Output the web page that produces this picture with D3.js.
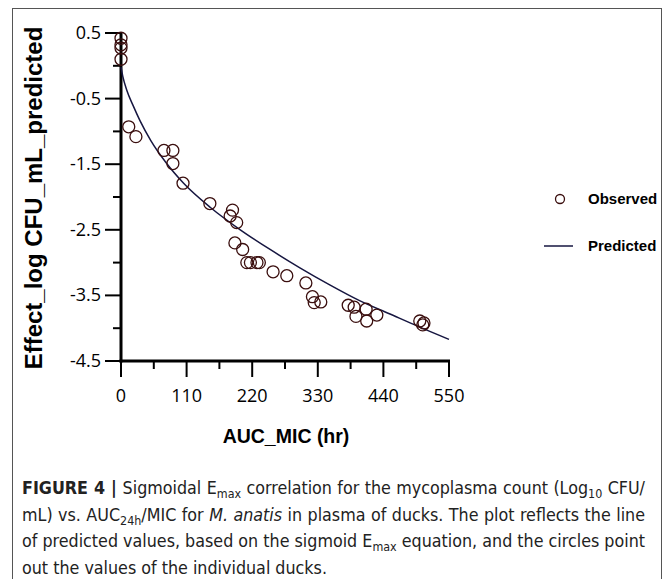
<!DOCTYPE html>
<html>
<head>
<meta charset="utf-8">
<script src="https://cdnjs.cloudflare.com/ajax/libs/d3/7.8.5/d3.min.js"></script>
<style>
	body { margin: 0; background: #fff; }
	svg { display: block; }
</style>
</head>
<body>
<div id="chart"></div>
<script>
	// observed values, one [AUC_MIC, effect] pair per duck
	var observed = [
		[0, 0.42], [0, 0.32], [0, 0.27], [0, 0.10],
		[13, -0.93], [25, -1.08],
		[72, -1.29], [87, -1.29], [87, -1.49], [104, -1.79], [149, -2.10],
		[187, -2.20], [183, -2.29], [194, -2.39],
		[191, -2.70], [204, -2.80], [211, -3.00], [217, -3.00], [228, -3.00], [232, -3.00],
		[255, -3.14], [278, -3.20], [310, -3.31], [321, -3.52], [324, -3.61], [335, -3.60],
		[381, -3.65], [391, -3.68], [394, -3.82], [411, -3.71], [412, -3.89], [429, -3.80],
		[501, -3.89], [508, -3.92], [506, -3.95]
	];

	// predicted line
	var predicted = [
		[0, -0.02], [3, -0.16], [10, -0.38], [20, -0.60], [32, -0.84], [50, -1.14],
		[75, -1.47], [105, -1.79], [150, -2.16], [200, -2.50], [250, -2.80],
		[300, -3.08], [350, -3.34], [400, -3.58], [450, -3.78], [500, -3.98], [550, -4.17]
	];

	var xTicks = [0, 55, 110, 165, 220, 275, 330, 385, 440, 495, 550];
	var xLabels = [0, 110, 220, 330, 440, 550];
	var yTicks = [0.5, 0, -0.5, -1, -1.5, -2, -2.5, -3, -3.5, -4, -4.5];
	var yLabels = [0.5, -0.5, -1.5, -2.5, -3.5, -4.5];

	var caption = [
		[{t: 'FIGURE 4 | ', b: true}, {t: 'Sigmoidal E'}, {t: 'max', sub: true}, {t: ' correlation for the mycoplasma count (Log'}, {t: '10', sub: true}, {t: ' CFU/'}],
		[{t: 'mL) vs. AUC'}, {t: '24h', sub: true}, {t: '/MIC for '}, {t: 'M. anatis', i: true}, {t: ' in plasma of ducks. The plot reflects the line'}],
		[{t: 'of predicted values, based on the sigmoid E'}, {t: 'max', sub: true}, {t: ' equation, and the circles point'}],
		[{t: 'out the values of the individual ducks.'}]
	];
	var captionJustify = [true, true, true, false];

	var width = 667, height = 579;
	var stroke = '#3a0e0e';

	var svg = d3.select('#chart').append('svg')
		.attr('width', width)
		.attr('height', height);

	// outer frame of the figure
	svg.append('rect')
		.attr('x', 12.5)
		.attr('y', 8.5)
		.attr('width', 649)
		.attr('height', 600)
		.attr('fill', 'none')
		.attr('stroke', '#555')
		.attr('stroke-width', 1);

	var x = d3.scaleLinear().domain([0, 550]).range([121, 449]);
	var y = d3.scaleLinear().domain([0.5, -4.5]).range([33, 361]);

	var tickFont = '"Open Sans", "Noto Sans", sans-serif';

	// ===========================================================================================
	// axes
	var gx = svg.append('g').attr('transform', 'translate(0,' + y(-4.5) + ')');
	gx.append('line')
		.attr('x1', x(0) - 1.5).attr('x2', x(550) + 1)
		.attr('stroke', '#000').attr('stroke-width', 3);
	gx.selectAll('.tick')
		.data(xTicks)
		.enter()
		.append('line')
		.attr('x1', function(d) { return x(d); })
		.attr('x2', function(d) { return x(d); })
		.attr('y1', 0)
		.attr('y2', function(d) { return xLabels.indexOf(d) >= 0 ? 16 : 8; })
		.attr('stroke', '#000')
		.attr('stroke-width', 2);
	gx.selectAll('.label')
		.data(xLabels)
		.enter()
		.append('text')
		.attr('x', function(d) { return x(d); })
		.attr('y', 41)
		.attr('text-anchor', 'middle')
		.style('font-family', tickFont)
		.style('font-size', '18px')
		.text(function(d) { return d; });

	var gy = svg.append('g').attr('transform', 'translate(' + x(0) + ',0)');
	gy.append('line')
		.attr('y1', y(0.5) - 1).attr('y2', y(-4.5) + 1.5)
		.attr('stroke', '#000').attr('stroke-width', 3);
	gy.selectAll('.tick')
		.data(yTicks)
		.enter()
		.append('line')
		.attr('y1', function(d) { return y(d); })
		.attr('y2', function(d) { return y(d); })
		.attr('x1', function(d) { return yLabels.indexOf(d) >= 0 ? -16 : -8; })
		.attr('x2', 0)
		.attr('stroke', '#000')
		.attr('stroke-width', 2);
	gy.selectAll('.label')
		.data(yLabels)
		.enter()
		.append('text')
		.attr('x', -20)
		.attr('y', function(d) { return y(d) + 6; })
		.attr('text-anchor', 'end')
		.style('font-family', tickFont)
		.style('font-size', '18px')
		.text(function(d) { return d; });

	// axis titles
	svg.append('text')
		.attr('transform', 'translate(42,198) rotate(-90)')
		.attr('text-anchor', 'middle')
		.style('font-family', '"Liberation Sans", Arial, sans-serif')
		.style('font-weight', 'bold')
		.style('font-size', '24px')
		.text('Effect_log CFU_mL_predicted');

	svg.append('text')
		.attr('x', 286)
		.attr('y', 443)
		.attr('text-anchor', 'middle')
		.style('font-family', '"Liberation Sans", Arial, sans-serif')
		.style('font-weight', 'bold')
		.style('font-size', '19.5px')
		.text('AUC_MIC (hr)');

	// ===========================================================================================
	// predicted line and observed circles
	var line = d3.line()
		.x(function(d) { return x(d[0]); })
		.y(function(d) { return y(d[1]); })
		.curve(d3.curveMonotoneX);

	svg.append('path')
		.datum(predicted)
		.attr('d', line)
		.attr('fill', 'none')
		.attr('stroke', '#161640')
		.attr('stroke-width', 1.5);

	svg.append('g')
		.selectAll('circle')
		.data(observed)
		.enter()
		.append('circle')
		.attr('cx', function(d) { return x(d[0]); })
		.attr('cy', function(d) { return y(d[1]); })
		.attr('r', 6)
		.attr('fill', 'none')
		.attr('stroke', stroke)
		.attr('stroke-width', 1.3);

	// ===========================================================================================
	// legend
	var legend = svg.append('g').attr('class', 'legend');
	legend.append('circle')
		.attr('cx', 560).attr('cy', 199).attr('r', 4.5)
		.attr('fill', 'none').attr('stroke', stroke).attr('stroke-width', 1.3);
	legend.append('line')
		.attr('x1', 544).attr('x2', 573).attr('y1', 246).attr('y2', 246)
		.attr('stroke', '#161640').attr('stroke-width', 1.5);
	legend.selectAll('text')
		.data(['Observed', 'Predicted'])
		.enter()
		.append('text')
		.attr('x', 588)
		.attr('y', function(d, i) { return 204 + i * 47; })
		.style('font-family', '"Liberation Sans", Arial, sans-serif')
		.style('font-weight', 'bold')
		.style('font-size', '15px')
		.text(function(d) { return d; });

	// ===========================================================================================
	// caption, justified to the figure width by word spacing
	var capLeft = 22, capRight = 645;
	var baseSize = 18;
	var cap = svg.append('g')
		.style('font-family', '"Liberation Sans Narrow", "DejaVu Sans Condensed", sans-serif')
		.style('fill', '#222');

	var texts = [];
	caption.forEach(function(parts, i) {
		var t = cap.append('text')
			.attr('x', capLeft)
			.attr('y', 494 + i * 26.5)
			.style('font-size', baseSize + 'px');
		var dy = 0;
		parts.forEach(function(p) {
			var s = t.append('tspan').text(p.t);
			if(p.b) { s.style('font-weight', 'bold'); }
			if(p.i) { s.style('font-style', 'italic'); }
			var want = p.sub ? 4 : 0;
			if(p.sub) { s.style('font-size', '0.7em'); }
			s.attr('dy', want - dy);
			dy = want;
		});
		texts.push(t);
	});

	// shrink the font if the widest line would overflow
	var widest = d3.max(texts, function(t) { return t.node().getComputedTextLength(); });
	var size = Math.min(baseSize, baseSize * (capRight - capLeft) / widest);
	texts.forEach(function(t, i) {
		t.style('font-size', size + 'px');
		if(!captionJustify[i]) { return; }
		var len = t.node().getComputedTextLength();
		var spaces = t.text().split(' ').length - 1;
		if(spaces > 0) {
			t.style('word-spacing', ((capRight - capLeft - len) / spaces) + 'px');
		}
	});
</script>
</body>
</html>
